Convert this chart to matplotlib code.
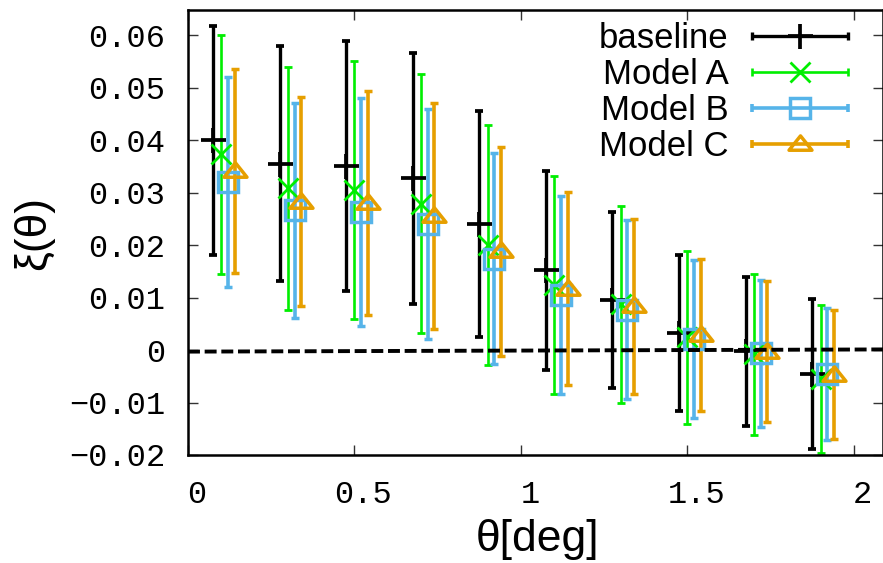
import numpy as np
import matplotlib
matplotlib.use("Agg")
import matplotlib.pyplot as plt
from matplotlib.legend_handler import HandlerBase
from matplotlib.lines import Line2D
from matplotlib.path import Path
from matplotlib.container import ErrorbarContainer
from matplotlib.transforms import ScaledTranslation

# ---------------------------------------------------------------- data
theta_bins = [0.1, 0.3, 0.5, 0.7, 0.9, 1.1, 1.3, 1.5, 1.7, 1.9]

baseline_xi = [0.0400, 0.0355, 0.0351, 0.0327, 0.0240, 0.0152, 0.0096, 0.0033, -0.0002, -0.0046]
baseline_err = [0.0218, 0.0224, 0.0238, 0.0239, 0.0216, 0.0190, 0.0168, 0.0149, 0.0142, 0.0143]

model_a_xi = [0.0373, 0.0308, 0.0305, 0.0279, 0.0200, 0.0124, 0.0087, 0.0024, -0.0008, -0.0056]
model_a_err = [0.0228, 0.0232, 0.0246, 0.0247, 0.0229, 0.0208, 0.0187, 0.0165, 0.0153, 0.0141]

model_b_xi = [0.0320, 0.0266, 0.0263, 0.0240, 0.0174, 0.0105, 0.0077, 0.0021, -0.0006, -0.0045]
model_b_err = [0.0200, 0.0205, 0.0217, 0.0219, 0.0201, 0.0188, 0.0170, 0.0150, 0.0140, 0.0126]

model_c_xi = [0.0341, 0.0283, 0.0280, 0.0255, 0.0188, 0.0117, 0.0083, 0.0029, -0.0003, -0.0047]
model_c_err = [0.0195, 0.0200, 0.0213, 0.0215, 0.0199, 0.0184, 0.0166, 0.0145, 0.0134, 0.0123]

series_labels = ["baseline", "Model A", "Model B", "Model C"]

# dashed reference line (end points)
ref_line_theta = [0.0, 2.1]
ref_line_xi = [-0.0003, 0.00012]

xtick_values = [0, 0.5, 1, 1.5, 2]
xtick_labels = ["0", "0.5", "1", "1.5", "2"]
ytick_values = [-0.02, -0.01, 0.0, 0.01, 0.02, 0.03, 0.04, 0.05, 0.06]
ytick_labels = ["\u22120.02", "\u22120.01", "0", "0.01", "0.02", "0.03", "0.04", "0.05", "0.06"]

# ---------------------------------------------------------------- style
plt.rcParams["font.family"] = ["Liberation Sans", "DejaVu Sans"]
plt.rcParams["lines.scale_dashes"] = False

# flat open triangle, centred on the data point
tri_marker = Path([(0, 0.75), (-1, -0.5), (1, -0.5), (0, 0.75)],
                  [Path.MOVETO, Path.LINETO, Path.LINETO, Path.CLOSEPOLY])

styles = [
    dict(shift=-0.025, color="#000000", marker="+", ms=18, mew=2.7, lw=2.4),
    dict(shift=0.0, color="#00ee00", marker="x", ms=15, mew=2.0, lw=1.9),
    dict(shift=0.02, color="#56b4e9", marker="s", ms=14.5, mew=2.5, lw=2.6),
    dict(shift=0.04, color="#e69f00", marker=tri_marker, ms=16.5, mew=2.5, lw=2.6),
]
values = [
    (baseline_xi, baseline_err),
    (model_a_xi, model_a_err),
    (model_b_xi, model_b_err),
    (model_c_xi, model_c_err),
]

CAP = 3.1  # cap half-length in points


class HandlerHorizontalBar(HandlerBase):
    """Legend sample: horizontal error bar with end caps and the point marker."""

    def create_artists(self, legend, orig_handle, xdescent, ydescent,
                       width, height, fontsize, trans):
        data_line = orig_handle.lines[0]
        bar_col = orig_handle.lines[2][0]
        color = data_line.get_markeredgecolor()
        lw = bar_col.get_linewidth()[0]
        y = (height - ydescent) / 2
        x0, x1 = -xdescent, width - xdescent
        bar = Line2D([x0, x1], [y, y], color=color, lw=lw, solid_capstyle="butt")
        caps = Line2D([x0, x1], [y, y], ls="none", marker="|", ms=2 * CAP,
                      mew=lw, color=color)
        mk = Line2D([(x0 + x1) / 2], [y], ls="none",
                    marker=data_line.get_marker(),
                    ms=data_line.get_markersize(),
                    mew=data_line.get_markeredgewidth(),
                    mfc="none", mec=color)
        for a in (bar, caps, mk):
            a.set_transform(trans)
        return [bar, caps, mk]


fig = plt.figure(figsize=(8.83, 5.63), dpi=100)
W, H = 883, 563
ax = fig.add_axes([188 / W, 1 - 455 / H, (882.5 - 188) / W, (455 - 10) / H])

handles = []
for (xi, err), st, label in zip(values, styles, series_labels):
    x = np.asarray(theta_bins) + st["shift"]
    h = ax.errorbar(x, xi, yerr=err, ls="none",
                    marker=st["marker"], ms=st["ms"], mew=st["mew"],
                    mfc="none", mec=st["color"], color=st["color"],
                    ecolor=st["color"], elinewidth=st["lw"],
                    capsize=CAP, capthick=st["lw"], label=label)
    handles.append(h)

ax.plot(ref_line_theta, ref_line_xi, color="black", lw=2.8,
        dashes=(8.6, 3.4), zorder=5)

ax.set_xlim(0, 2.086)
ax.set_ylim(-0.02, 0.0648)

ax.set_xticks(xtick_values, xtick_labels)
ax.set_yticks(ytick_values, ytick_labels)
ax.tick_params(direction="in", top=True, right=True, length=7, width=1,
               color="#333333", pad=0)
ax.tick_params(axis="y", pad=16.5)
ax.tick_params(axis="x", pad=18)
for lab in ax.get_xticklabels() + ax.get_yticklabels():
    lab.set_fontfamily(["Liberation Mono", "DejaVu Sans"])
    lab.set_fontsize(23)
shift = ScaledTranslation(0.09, 0, fig.dpi_scale_trans)
for lab in ax.get_xticklabels():
    lab.set_transform(lab.get_transform() + shift)

for sp in ax.spines.values():
    sp.set_linewidth(1.8)

ax.set_xlabel("\u03b8[deg]", fontsize=32, va="center")
ax.xaxis.set_label_coords(0.503, -0.191)
ax.set_ylabel("\u03be(\u03b8)", fontsize=32, va="center")
ax.yaxis.set_label_coords(-0.222, 0.5)

fs = 25
leg = ax.legend(handles=handles, labels=series_labels,
                handler_map={ErrorbarContainer: HandlerHorizontalBar()},
                loc="upper right", bbox_to_anchor=(847.5 / W, 1 - 22 / H),
                bbox_transform=fig.transFigure, frameon=False,
                markerfirst=False, fontsize=fs, handlelength=96 / (fs * 100 / 72),
                handletextpad=23 / (fs * 100 / 72), labelspacing=0.09, borderpad=0,
                borderaxespad=0)

fig.savefig("out.png", dpi=100)
